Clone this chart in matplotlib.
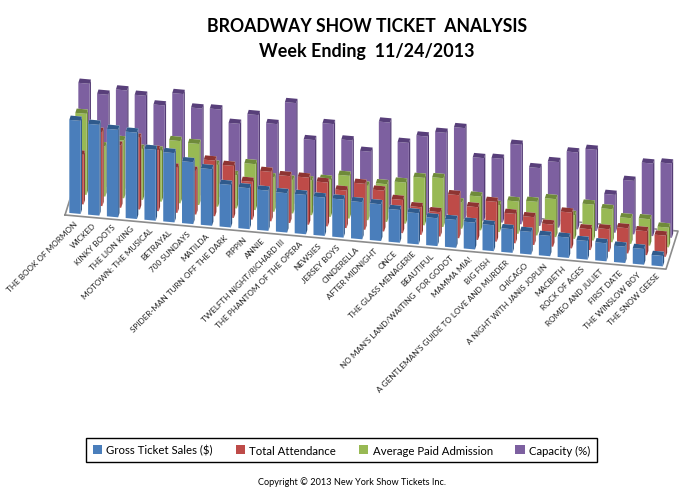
import numpy as np
import matplotlib
matplotlib.use("Agg")
import matplotlib.pyplot as plt
from matplotlib.patches import Patch
from mpl_toolkits.mplot3d import proj3d

# 3D bars, values in the chart's own (pixel like) height units
shows = [
    "THE BOOK OF MORMON", "WICKED", "KINKY BOOTS", "THE LION KING",
    "MOTOWN: THE MUSICAL", "BETRAYAL", "700 SUNDAYS", "MATILDA",
    "SPIDER-MAN TURN OFF THE DARK", "PIPPIN", "ANNIE",
    "TWELFTH NIGHT/RICHARD III", "THE PHANTOM OF THE OPERA", "NEWSIES",
    "JERSEY BOYS", "CINDERELLA", "AFTER MIDNIGHT", "ONCE",
    "THE GLASS MENAGERIE", "BEAUTIFUL", "NO MAN'S LAND/WAITING  FOR GODOT",
    "MAMMA MIA!", "BIG FISH", "A GENTLEMAN'S GUIDE TO LOVE AND MURDER",
    "CHICAGO", "A NIGHT WITH JANIS JOPLIN", "MACBETH", "ROCK OF AGES",
    "ROMEO AND JULIET", "FIRST DATE", "THE WINSLOW BOY", "THE SNOW GEESE",
]
gross = [93, 90.7, 87.4, 86.3, 70.8, 69.2, 61.8, 56.5, 42.5, 40.9, 40.2, 39.3,
         39.3, 38.3, 38, 37.1, 36.7, 32.7, 31.1, 27.8, 27.8, 26.8, 25.9, 23.6,
         22.6, 20.3, 20.3, 18.6, 18, 16.3, 15.7, 10.4]
attendance = [49.5, 74, 62, 71.6, 61, 45, 43.6, 55.6, 52, 37.7, 49.4, 46.8,
              47, 43.8, 37.5, 45.9, 40.8, 33.2, 27.6, 24.3, 43, 32.7, 39.7, 29.4,
              27.8, 22.1, 35.8, 20.8, 22.5, 25.2, 23.9, 21.2]
avg_paid = [81, 50, 57.7, 51, 50.8, 62.2, 61, 41.8, 33.2, 45.9, 34.2, 33.6,
            34.6, 37, 42.7, 34.4, 37.7, 41, 47.4, 48.8, 26.1, 33.8, 26.9, 32.2,
            33.6, 38, 23.7, 35.9, 33, 25.7, 26.4, 19.7]
capacity = [101.5, 92.2, 98.2, 94.6, 86.6, 99.7, 86.9, 87.6, 75, 85.4, 78.1, 100.8,
            65.5, 83.2, 68.5, 58.9, 89.8, 71.2, 79.2, 84.6, 91, 62.7, 63.7, 79.4,
            57.8, 65.5, 76.8, 81.1, 37.8, 53.5, 72.5, 74.2]

series = [gross, attendance, avg_paid, capacity]
names = ["Gross Ticket Sales ($)", "Total Attendance", "Average Paid Admission", "Capacity (%)"]
front_colors = ["#4a7ebb", "#be4b48", "#98b954", "#7d60a0"]
top_colors = ["#2f5a8c", "#8e3432", "#6f8a3a", "#583f7a"]
side_colors = ["#2c5484", "#873230", "#6a8437", "#543c74"]

W, H = 680, 502
ELEV, AZIM = 32.3, -80.43
n = len(shows)
z_top = 110

plt.rcParams["font.family"] = ["Lato", "DejaVu Sans"]
fig = plt.figure(figsize=(W / 100, H / 100), dpi=100)
ax = fig.add_axes([0, 0, 1, W / H], projection="3d", proj_type="ortho", computed_zorder=False)
ax.view_init(elev=ELEV, azim=AZIM)
ax.set_xlim(0, n, view_margin=0)
ax.set_ylim(0, 4, view_margin=0)
ax.set_zlim(0, z_top, view_margin=0)
ax.set_axis_off()
ax.patch.set_alpha(0)
aspect = (n * 19.03, 4 * 18.05, z_top * 1.183)


def to_px(x, y, z):
    ax.apply_aspect()
    xs, ys, _ = proj3d.proj_transform(x, y, z, ax.get_proj())
    return ax.transData.transform((xs, ys))


# scale and shift the box so the floor lands where the original has it
ax.set_box_aspect(aspect, zoom=1)
span = to_px(n, 0, 0)[0] - to_px(0, 0, 0)[0]
ax.set_box_aspect(aspect, zoom=601 / span)
left, bottom = to_px(0, 0, 0)
ax.set_position([(65 - left) / W, (H - 216 - bottom) / H, 1, W / H])

# floor
floor_x = [0, n, n, 0, 0]
floor_y = [0, 0, 4, 4, 0]
ax.plot(floor_x, floor_y, [0] * 5, color="#8c8c8c", lw=1.2, zorder=0)

for row in range(3, -1, -1):
    for c in range(n):
        colors = ["#ffffff", top_colors[row], front_colors[row], "#ffffff",
                  "#ffffff", side_colors[row]]
        ax.bar3d(c + 0.19, row + 0.25, 0, 0.6, 0.45, series[row][c], color=colors,
                 shade=False, linewidth=0, zorder=10 - row)

for c, name in enumerate(shows):
    px = to_px(c + 0.55, 0, 0)
    fig.text((px[0] + 1) / W, (px[1] - 6) / H, name, rotation=45, rotation_mode="anchor",
             ha="right", va="center", fontsize=5.9, color="#222222")

fig.text(367.5 / W, 1 - 26 / H, "BROADWAY SHOW TICKET  ANALYSIS", ha="center", va="center",
         fontsize=12.7, fontweight="bold", color="black")
fig.text(366.5 / W, 1 - 52 / H, "Week Ending  11/24/2013", ha="center", va="center",
         fontsize=12.9, fontweight="bold", color="black")

handles = [Patch(facecolor=c, edgecolor="none") for c in front_colors]
leg = fig.legend(handles, names, ncols=4, loc="center", bbox_to_anchor=(341.5 / W, 1 - 451 / H),
                 frameon=True, fancybox=False, edgecolor="black", framealpha=1,
                 fontsize=8.2, handlelength=0.8, handleheight=0.8, handletextpad=0.4,
                 columnspacing=2.0, borderpad=0.55, borderaxespad=0)
leg.get_frame().set_linewidth(1.0)

fig.text(351.5 / W, 1 - 482.5 / H, "Copyright © 2013 New York Show Tickets Inc.", ha="center",
         va="center", fontsize=6.55, color="black")

fig.savefig("out.png", dpi=100)
plt.close(fig)
